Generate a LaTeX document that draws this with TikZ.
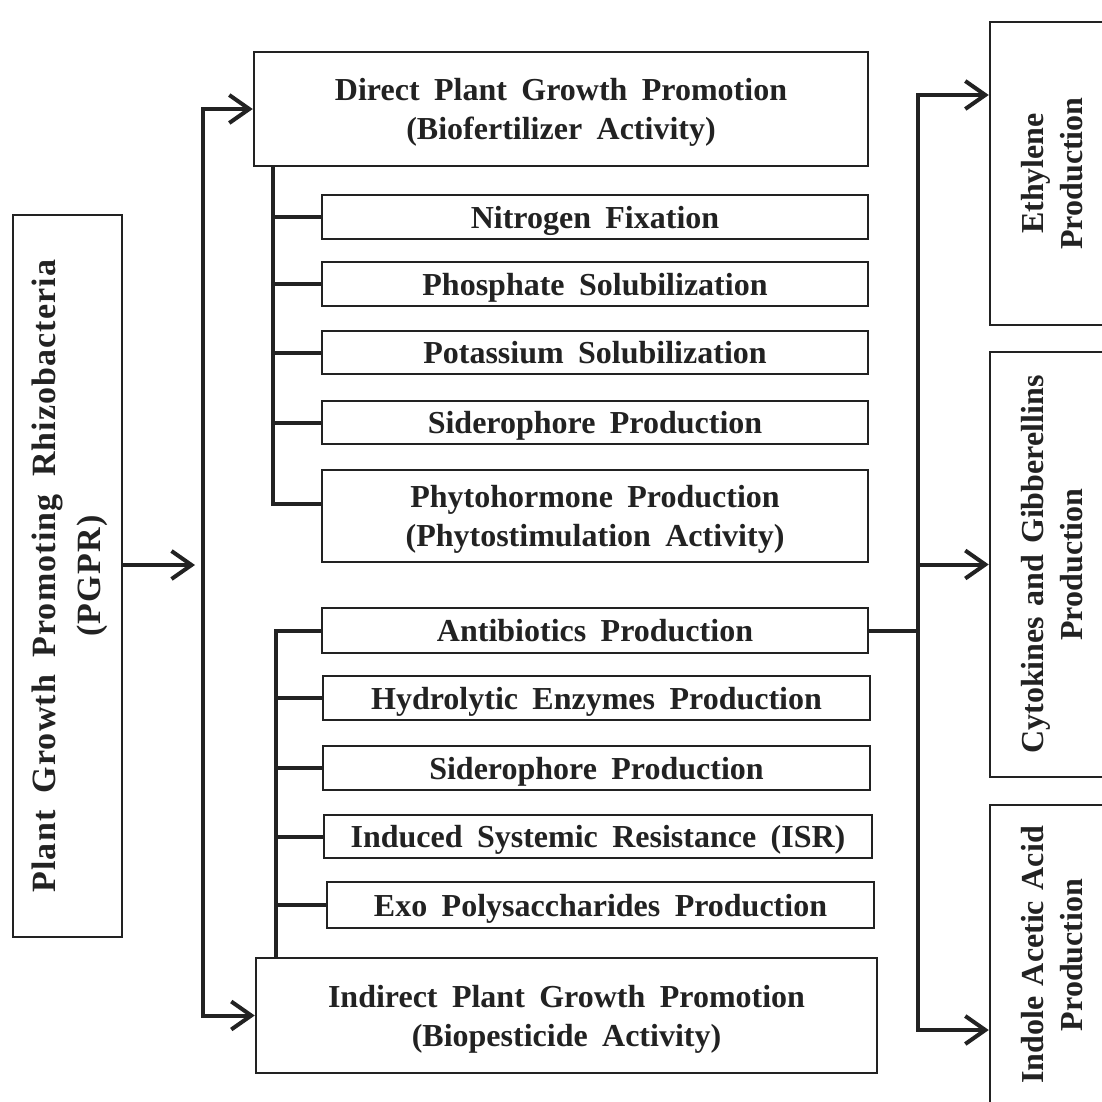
\documentclass[tikz,border=0pt]{standalone}
\usepackage{fontspec}
\setmainfont{Liberation Serif}[WordSpace=1.8]
\newfontfamily\leftfont{Liberation Serif}[WordSpace=1.8, LetterSpace=3.3]
\usetikzlibrary{arrows.meta}
\definecolor{ink}{HTML}{222222}
\begin{document}
\begin{tikzpicture}[x=1pt,y=-1pt,
  box/.style={draw=ink, line width=2.5pt, inner sep=0pt, align=center,
    font=\bfseries\fontsize{32}{39}\selectfont, text=ink},
  hbox/.style={box, text depth=0pt},
  conn/.style={draw=ink, line width=4pt},
  arr/.style={conn, -{Straight Barb[length=20pt,width=28pt,line width=4pt]}},
]
\fill[white] (0,0) rectangle (1102,1101);
\useasboundingbox (0,0) rectangle (1102,1101);
\clip (0,0) rectangle (1102,1101);

% left main box
\node[box, rotate=90, minimum width=722pt, minimum height=109pt,
  text height=66pt, text depth=0pt,
  font=\leftfont\bfseries\fontsize{34}{45}\selectfont] (L) at (67.5,576)
  {Plant Growth Promoting Rhizobacteria\\(PGPR)};

% direct / indirect
\node[hbox, minimum width=614pt, minimum height=114pt] (D) at (561,109)
  {Direct Plant Growth Promotion\\(Biofertilizer Activity)};
\node[hbox, minimum width=621pt, minimum height=115pt] (B) at (566.5,1015.5)
  {Indirect Plant Growth Promotion\\(Biopesticide Activity)};

% direct sub boxes
\node[hbox, minimum width=546pt, minimum height=44pt] (N) at (595,217) {Nitrogen Fixation};
\node[hbox, minimum width=546pt, minimum height=44pt] (P) at (595,284) {Phosphate Solubilization};
\node[hbox, minimum width=546pt, minimum height=43pt] (K) at (595,352.5) {Potassium Solubilization};
\node[hbox, minimum width=546pt, minimum height=43pt] (S1) at (595,422.5) {Siderophore Production};
\node[hbox, minimum width=546pt, minimum height=92pt] (H) at (595,516)
  {Phytohormone Production\\(Phytostimulation Activity)};

% indirect sub boxes
\node[hbox, minimum width=546pt, minimum height=45pt] (A) at (595,630.5) {Antibiotics Production};
\node[hbox, minimum width=547pt, minimum height=44pt] (Y) at (596.5,698) {Hydrolytic Enzymes Production};
\node[hbox, minimum width=547pt, minimum height=44pt] (S2) at (596.5,768) {Siderophore Production};
\node[hbox, minimum width=548pt, minimum height=43pt] (I) at (598,836.5) {Induced Systemic Resistance (ISR)};
\node[hbox, minimum width=547pt, minimum height=46pt] (E) at (600.5,905) {Exo Polysaccharides Production};

% right boxes
\node[box, rotate=90, minimum width=303pt, minimum height=124pt, text width=300pt] (Et) at (1052,173.5)
  {Ethylene\\Production};
\node[box, rotate=90, minimum width=425pt, minimum height=124pt, text width=420pt] (Cy) at (1052,564.5)
  {Cytokines and Gibberellins\\Production};
\node[box, rotate=90, minimum width=300pt, minimum height=124pt, text width=296pt] (In) at (1052,955)
  {Indole Acetic Acid\\Production};

% junction coordinates
\coordinate (tL) at (203,565);
\coordinate (dB) at (273,0);
\coordinate (iB) at (276,0);
\coordinate (rB) at (918,0);
\coordinate (r1) at (0,95);
\coordinate (r3) at (0,1030);

% left trunk
\draw[arr] (L.south |- tL) -- ([xshift=-8pt]tL);
\draw[arr] (tL) |- (D.west);
\draw[arr] (tL) |- (B.west);

% direct branches
\draw[conn] ([yshift=12pt]H.west) -| (D.south -| dB);
\foreach \n in {N,P,K,S1}{\draw[conn] (\n.west -| dB) -- (\n.west);}

% indirect branches
\draw[conn] (A.west) -| (B.north -| iB);
\foreach \n in {Y,S2,I,E}{\draw[conn] (\n.west -| iB) -- (\n.west);}

% right side
\draw[conn] (A.east) -- (A.east -| rB);
\draw[arr] (A.east -| rB) |- (Et.north |- r1);
\draw[arr] (A.east -| rB) |- (In.north |- r3);
\draw[arr] (Cy.north -| rB) -- (Cy.north);
\end{tikzpicture}
\end{document}
